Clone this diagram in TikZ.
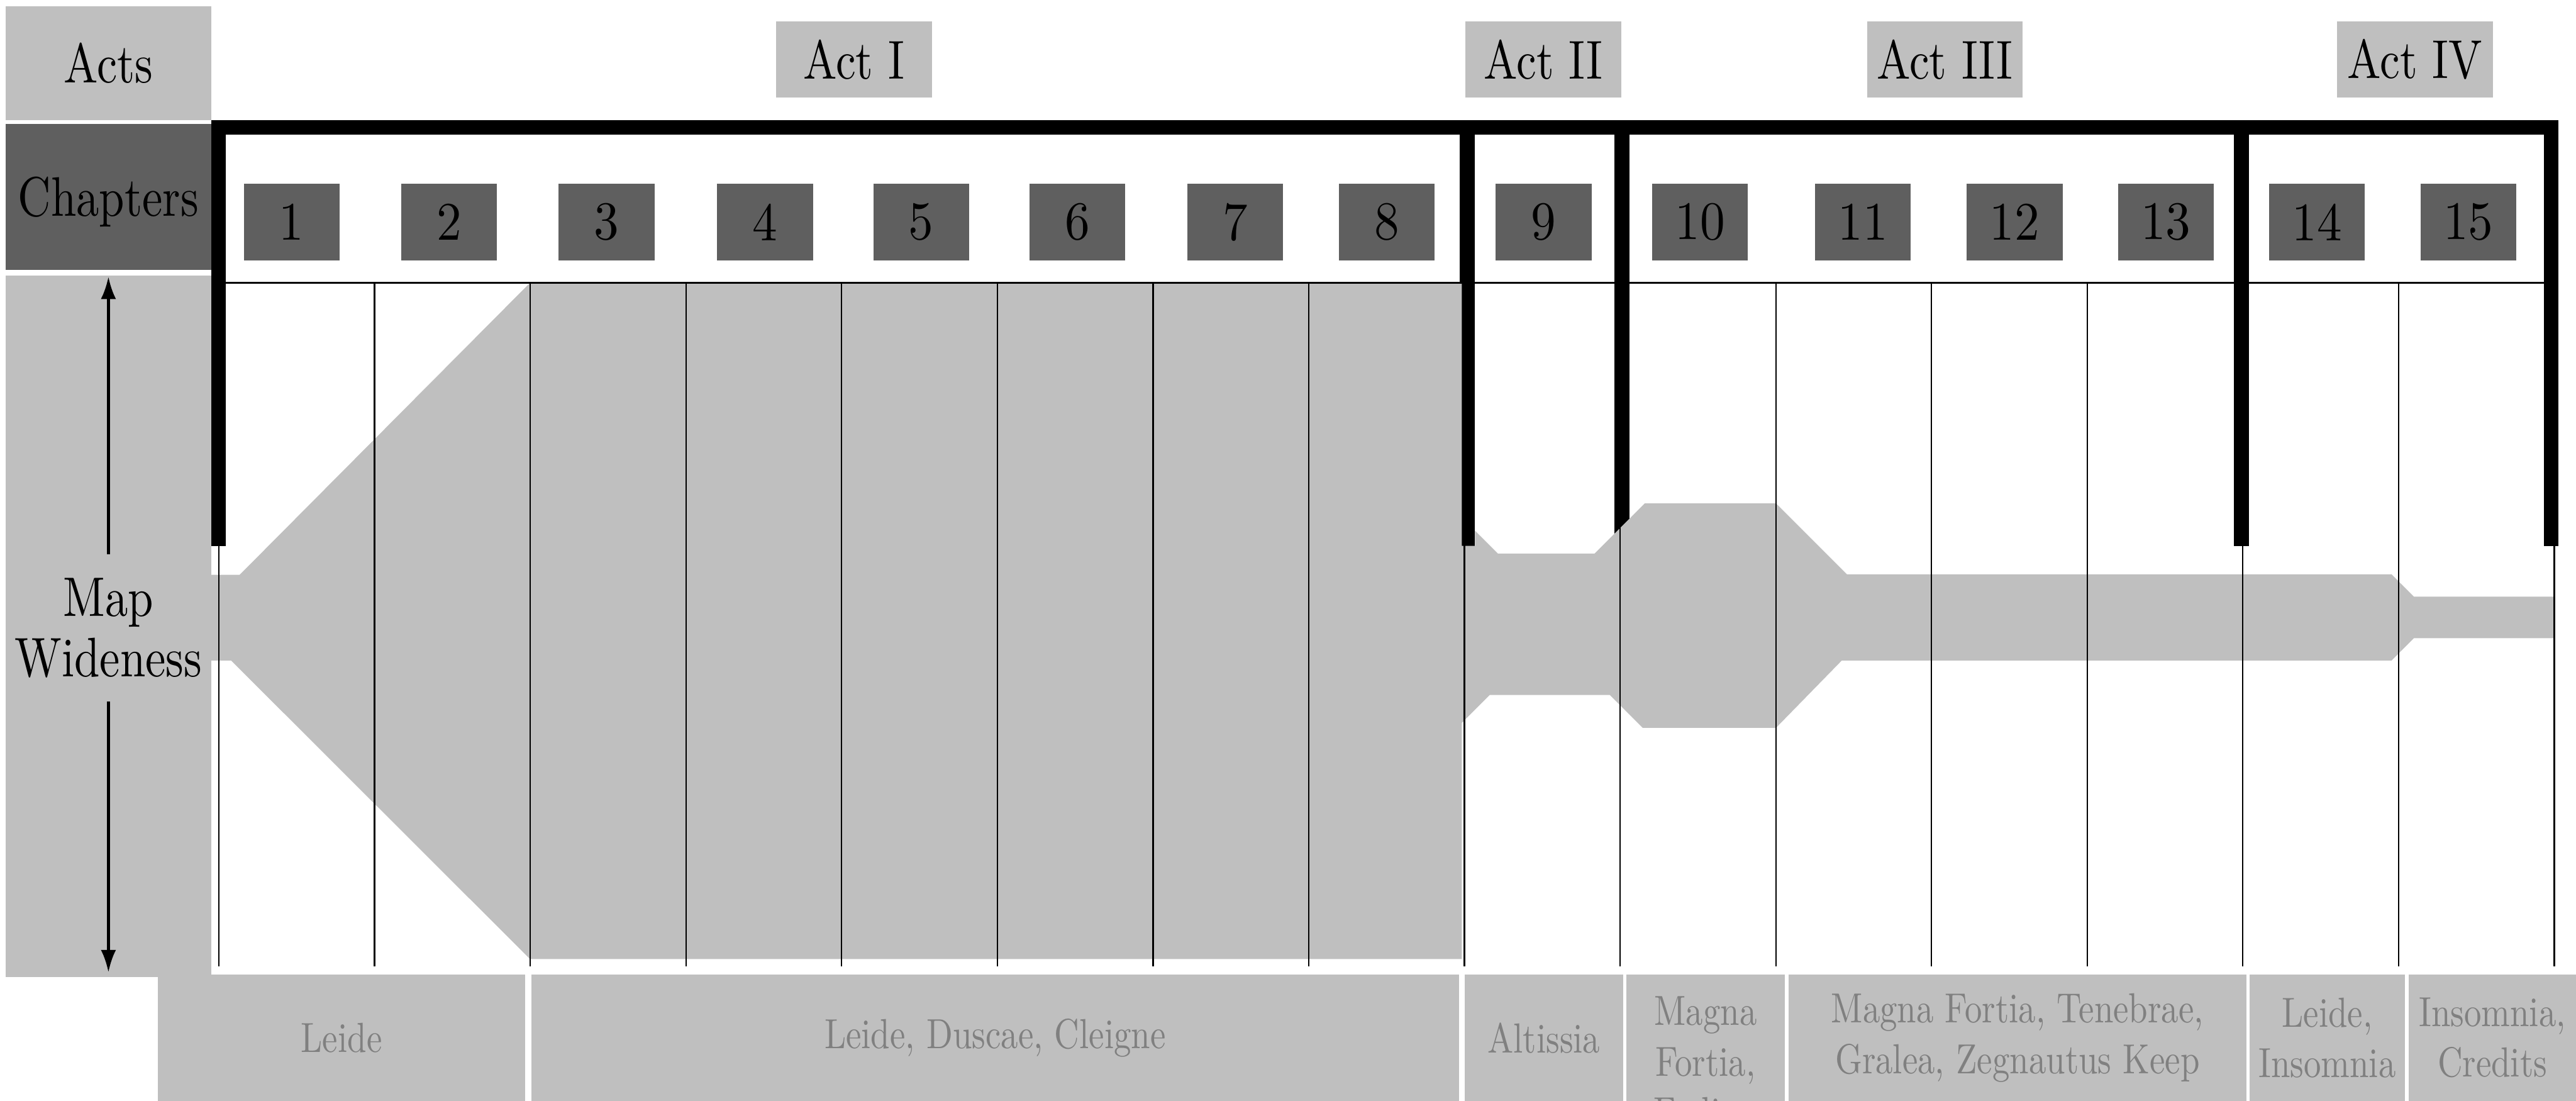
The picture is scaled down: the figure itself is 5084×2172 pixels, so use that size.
\documentclass[tikz,border=0pt]{standalone}
\usepackage{fontspec}
\setmainfont{lmroman10-regular.otf}[FakeStretch=0.82]
\newfontfamily\numfont{lmroman10-regular.otf}[FakeStretch=0.92]
\usetikzlibrary{arrows.meta}

\definecolor{lightfill}{RGB}{191,191,191}
\definecolor{darkfill}{RGB}{95,95,95}
\definecolor{placetext}{RGB}{128,128,128}

\tikzset{
  sidebox/.style={fill=lightfill, inner sep=0pt, minimum width=40.6pt,
    font=\fontsize{11}{11.9}\selectfont, align=center},
  actbox/.style={fill=lightfill, inner sep=0pt, minimum width=30.7pt,
    minimum height=15.1pt, font=\fontsize{10.8}{12}\selectfont},
  chapbox/.style={fill=darkfill, inner sep=0pt, minimum width=18.9pt,
    minimum height=15.2pt, font=\numfont\fontsize{10.7}{12}\selectfont},
  placebox/.style={fill=lightfill, inner sep=0pt, minimum height=24.9pt,
    text=placetext, align=center, font=\fontsize{8.3}{10}\selectfont},
  placetxt/.style={inner sep=0pt, text=placetext, align=center,
    font=\fontsize{8.3}{10}\selectfont},
  colline/.style={line width=0.28pt},
  widearrow/.style={-{Latex[length=4.4pt,width=3pt]}, line width=0.55pt},
}

\begin{document}
\begin{tikzpicture}[x=0.1pt, y=-0.1pt]
  \clip (0,0) rectangle (5084,2172);

  % row headings on the left
  \node[sidebox, minimum height=22.5pt] (acts) at (214,124.5) {Acts};
  \fill[darkfill] (11,244) rectangle (417,533);
  \node[inner sep=0pt, font=\fontsize{11}{11.9}\selectfont] (chapters) at (214,398) {Chapters};
  \fill[lightfill] (11,544) rectangle (417,1927);

  % act labels
  \node[actbox] (act1) at (1685.5,117.5) {Act I};
  \node[actbox] (act2) at (3046,117.5) {Act II};
  \node[actbox] (act3) at (3838.5,117.5) {Act III};
  \node[actbox] (act4) at (4766,117.5) {Act IV};

  % chapter numbers
  \foreach \n/\cx in {1/575.5, 2/886.5, 3/1197, 4/1510, 5/1818, 6/2126.5,
      7/2437.5, 8/2737, 9/3046.5, 10/3355, 11/3676.5, 12/3976, 13/4274.5,
      14/4573, 15/4871.5}
    \node[chapbox] (ch\n) at (\cx,438) {\n};

  % act frame: top rail and the act dividers
  \fill (417,237) rectangle (5049,266);
  \fill (417,237) rectangle (446,1077);
  \fill (2881,237) rectangle (2911,1077);
  \fill (3186,237) rectangle (3216,1077);
  \fill (4409,237) rectangle (4439,1077);
  \fill (5020,237) rectangle (5049,1077);

  % map wideness profile
  \fill[lightfill] (417,1134) -- (473,1134) -- (1046,558) -- (2885,558)
    -- (2885,1077) -- (2911,1077) -- (2911,1047) -- (2956,1092)
    -- (3147,1092) -- (3246,993) -- (3505,993) -- (3645,1133)
    -- (4720,1133) -- (4764,1177) -- (5041,1177) -- (5041,1259)
    -- (4764,1259) -- (4720,1303) -- (3635,1303) -- (3505,1436)
    -- (3242,1436) -- (3177,1371) -- (2940,1371) -- (2885,1426)
    -- (2885,1892) -- (1046,1892) -- (456,1303) -- (417,1303) -- cycle;

  % chapter grid
  \draw[colline] (432,558) -- (5041,558);
  \foreach \i in {0,...,15}
    \draw[colline] ({432+307.27*\i},558) -- ({432+307.27*\i},1907);

  % map wideness axis
  \node[inner xsep=0pt, inner ysep=4.5pt, align=center,
    font=\fontsize{11}{11.9}\selectfont] (mw) at (214,1239) {Map\\Wideness};
  \coordinate (mwtop) at (214,546);
  \coordinate (mwbot) at (214,1918);
  \draw[widearrow] (mw.north) -- (mwtop);
  \draw[widearrow] (mw.south) -- (mwbot);

  % places visited
  \node[placebox, minimum width=72.4pt] (p1) at (674,2047.5) {Leide};
  \node[placebox, minimum width=183pt] (p2) at (1964,2047.5) {Leide, Duscae, Cleigne};
  \node[placebox, minimum width=31.2pt] (p3) at (3047,2047.5) {Altissia};
  \node[placebox, minimum width=31.2pt] (p4) at (3366,2047.5) {};
  \node[placetxt, anchor=north] (p4t) at (3366,1964) {Magna\\Fortia,\\Fodina};
  \node[placebox, minimum width=90.3pt] (p5) at (3981.5,2047.5)
    {Magna Fortia, Tenebrae,\\Gralea, Zegnautus Keep};
  \node[placebox, minimum width=30.6pt] (p6) at (4593,2047.5) {Leide,\\Insomnia};
  \node[placebox, minimum width=33pt] (p7) at (4919,2047.5) {Insomnia,\\Credits};
\end{tikzpicture}
\end{document}
